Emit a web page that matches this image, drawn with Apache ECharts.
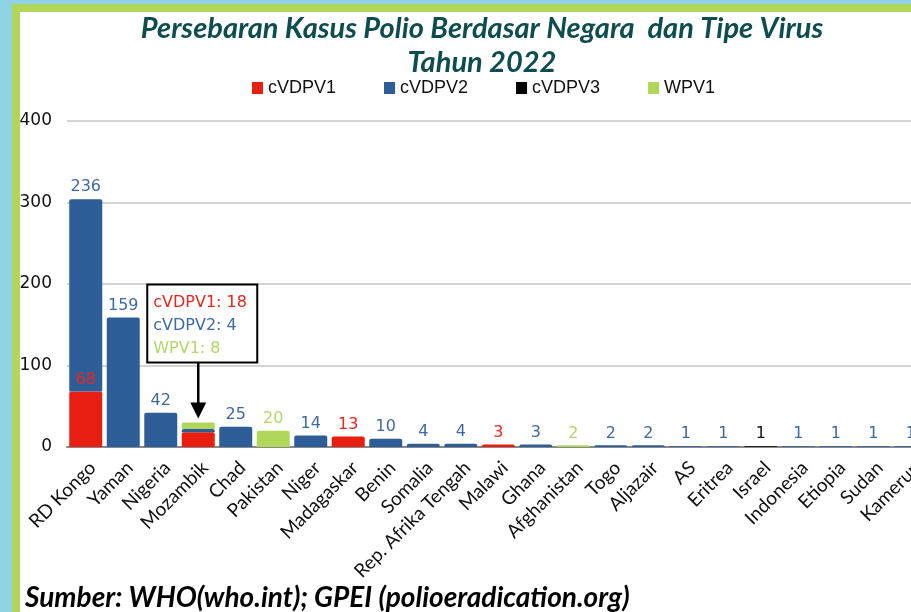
<!DOCTYPE html>
<html>
<head>
<meta charset="utf-8">
<script src="https://cdn.jsdelivr.net/npm/echarts@6/dist/echarts.min.js"></script>
<style>
  html, body { margin: 0; padding: 0; background: #fff; overflow: hidden; }
  #main { width: 940px; height: 612px; }
</style>
</head>
<body>
<div id="main"></div>
<script>
// data
var categories = ['RD Kongo', 'Yaman', 'Nigeria', 'Mozambik', 'Chad', 'Pakistan', 'Niger', 'Madagaskar', 'Benin', 'Somalia',
    'Rep. Afrika Tengah', 'Malawi', 'Ghana', 'Afghanistan', 'Togo', 'Aljazair', 'AS', 'Eritrea', 'Israel', 'Indonesia',
    'Etiopia', 'Sudan', 'Kamerun'];
var cVDPV1 = [68, 0, 0, 18, 0, 0, 0, 13, 0, 0, 0, 3, 0, 0, 0, 0, 0, 0, 0, 0, 0, 0, 0];
var cVDPV2 = [236, 159, 42, 4, 25, 0, 14, 0, 10, 4, 4, 0, 3, 0, 2, 2, 1, 1, 0, 1, 1, 1, 1];
var cVDPV3 = [0, 0, 0, 0, 0, 0, 0, 0, 0, 0, 0, 0, 0, 0, 0, 0, 0, 0, 1, 0, 0, 0, 0];
var WPV1 = [0, 0, 0, 8, 0, 20, 0, 0, 0, 0, 0, 0, 0, 2, 0, 0, 0, 0, 0, 0, 0, 0, 0];
var yTicks = [0, 100, 200, 300, 400];
var noteIndex = 3; // Mozambik gets a callout box instead of labels

var barColors = ['#e81f10', '#2e5e97', '#000000', '#b0d65a'];
var labelColors = ['#e8261c', '#3d6aa6', '#111111', '#b3d765'];

// chart is a bit wider than the window so the last bar gets cut off like the original
var myChart = echarts.init(document.getElementById('main'));

function makeSeries(name, data, idx) {
    return {
        name: name,
        type: 'bar',
        stack: 'total',
        data: data,
        barWidth: 33,
        itemStyle: { color: barColors[idx], borderRadius: [2, 2, 0, 0] },
        label: {
            show: true,
            position: 'top',
            distance: 4,
            color: labelColors[idx],
            fontFamily: 'DejaVu Sans',
            fontSize: 16,
            formatter: function (p) {
                if (!p.value || p.dataIndex === noteIndex) return '';
                return p.value;
            }
        }
    };
}

var option = {
    backgroundColor: '#fff',
    animation: false,
    title: {
        text: 'Persebaran Kasus Polio Berdasar Negara  dan Tipe Virus\nTahun 2022',
        left: 477,
        top: 7,
        textAlign: 'center',
        textStyle: {
            fontFamily: 'Lato',
            fontWeight: 'bold',
            fontStyle: 'italic',
            fontSize: 29,
            lineHeight: 34,
            color: '#0e4d4f'
        }
    },
    legend: {
        top: 74,
        left: 247,
        itemWidth: 11,
        itemHeight: 12,
        itemGap: 48,
        icon: 'rect',
        textStyle: { fontFamily: 'Liberation Sans', fontSize: 18, color: '#111' },
        data: ['cVDPV1', 'cVDPV2', 'cVDPV3', 'WPV1']
    },
    grid: {
        left: 67,
        top: 121,
        width: 862.5,
        height: 326,
        containLabel: false
    },
    xAxis: {
        type: 'category',
        data: categories,
        axisTick: { show: false },
        axisLine: { lineStyle: { color: '#8a8a8a', width: 2 } },
        axisLabel: {
            interval: 0,
            rotate: 45,
            margin: 11,
            verticalAlign: 'top',
            fontFamily: 'Lato',
            fontSize: 19,
            color: '#111'
        }
    },
    yAxis: {
        type: 'value',
        min: yTicks[0],
        max: yTicks[yTicks.length - 1],
        interval: 100,
        axisLine: { show: false },
        axisTick: { show: false },
        splitLine: { lineStyle: { color: '#c6c6c6', width: 1.5 } },
        axisLabel: { margin: 15, fontFamily: 'DejaVu Sans', fontSize: 17, color: '#111' }
    },
    series: [
        makeSeries('cVDPV1', cVDPV1, 0),
        makeSeries('cVDPV2', cVDPV2, 1),
        makeSeries('cVDPV3', cVDPV3, 2),
        makeSeries('WPV1', WPV1, 3)
    ]
};

myChart.setOption(option);

// callout box for Mozambik + frame + source note
var total = cVDPV1[noteIndex] + cVDPV2[noteIndex] + cVDPV3[noteIndex] + WPV1[noteIndex];
var pt = myChart.convertToPixel({ gridIndex: 0 }, [noteIndex, total]);
var bx = pt[0], by = pt[1];
var boxW = 110, boxH = 78;
var boxX = bx - boxW / 2 + 4;
var boxBottom = by - 60;

myChart.setOption({
    graphic: [
        // light blue outer strip
        { type: 'rect', left: 0, top: 0, shape: { width: 12, height: 612 }, style: { fill: '#8dd3e2' }, z: 100 },
        { type: 'rect', left: 0, top: 0, shape: { width: 940, height: 4 }, style: { fill: '#8dd3e2' }, z: 100 },
        // green frame
        { type: 'rect', left: 12, top: 4, shape: { width: 8, height: 608 }, style: { fill: '#b2d65a' }, z: 100 },
        { type: 'rect', left: 12, top: 4, shape: { width: 928, height: 8 }, style: { fill: '#b2d65a' }, z: 100 },
        // callout
        {
            type: 'rect',
            shape: { x: boxX, y: boxBottom - boxH, width: boxW, height: boxH },
            style: { fill: '#fff', stroke: '#000', lineWidth: 2 },
            z: 50
        },
        {
            type: 'text', x: boxX + 6, y: boxBottom - boxH + 18, z: 51,
            style: { text: 'cVDPV1: ' + cVDPV1[noteIndex], fill: labelColors[0], font: '16px "DejaVu Sans"', verticalAlign: 'middle' }
        },
        {
            type: 'text', x: boxX + 6, y: boxBottom - boxH + 41, z: 51,
            style: { text: 'cVDPV2: ' + cVDPV2[noteIndex], fill: labelColors[1], font: '16px "DejaVu Sans"', verticalAlign: 'middle' }
        },
        {
            type: 'text', x: boxX + 6, y: boxBottom - boxH + 64, z: 51,
            style: { text: 'WPV1: ' + WPV1[noteIndex], fill: labelColors[3], font: '16px "DejaVu Sans"', verticalAlign: 'middle' }
        },
        {
            type: 'line', z: 50,
            shape: { x1: bx, y1: boxBottom, x2: bx, y2: by - 14 },
            style: { stroke: '#000', lineWidth: 2.5 }
        },
        {
            type: 'polygon', z: 50,
            shape: { points: [[bx - 8, by - 20], [bx + 8, by - 20], [bx, by - 4]] },
            style: { fill: '#000' }
        },
        {
            type: 'text', left: 25, top: 584, z: 60,
            style: {
                text: 'Sumber: WHO(who.int); GPEI (polioeradication.org)',
                fill: '#000',
                font: 'italic bold 28px Lato'
            }
        }
    ]
});

window.onresize = function () {
    myChart.resize();
};
</script>
</body>
</html>
